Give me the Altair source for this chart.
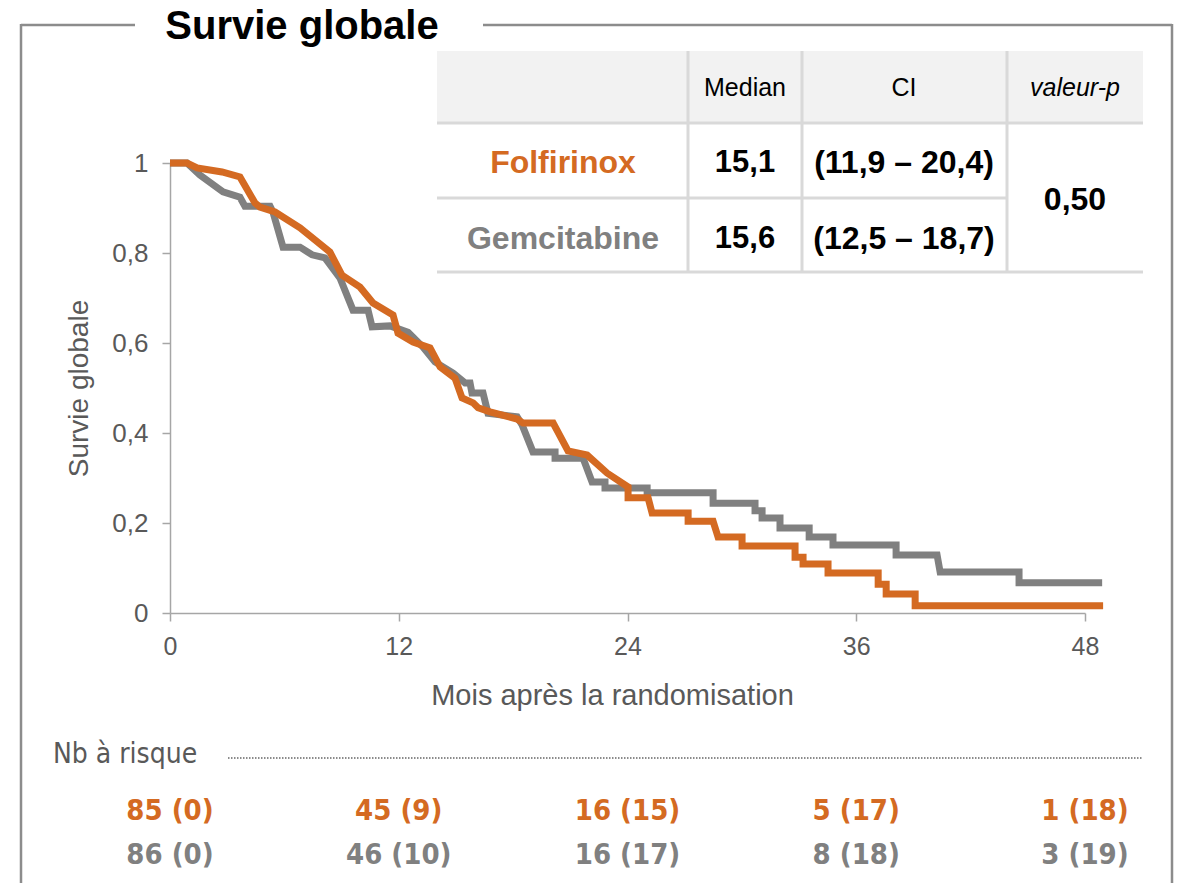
import altair as alt
import pandas as pd

# ---------------- data ----------------
fol_months = [0, 0.89, 1.42, 2.73, 3.67, 4.46, 4.72, 5.51, 6.82, 8.39, 9.02, 9.97, 10.65, 11.70,
              11.96, 12.75, 13.64, 14.17, 14.95, 15.32, 15.90, 16.16, 16.79, 18.21, 18.52, 20.10,
              20.88, 21.88, 22.93, 24.03, 24.03, 25.08, 25.29, 27.18, 27.18, 28.49, 28.75, 30.01,
              30.01, 32.79, 32.79, 33.21, 33.21, 34.52, 34.52, 37.15, 37.15, 37.57, 37.57, 39.09,
              39.09, 48.95]
fol_surv = [1.0, 1.0, 0.989, 0.980, 0.969, 0.911, 0.902, 0.891, 0.856, 0.802, 0.751, 0.724, 0.689,
            0.662, 0.622, 0.602, 0.589, 0.547, 0.522, 0.478, 0.467, 0.456, 0.447, 0.431, 0.422,
            0.422, 0.360, 0.351, 0.311, 0.280, 0.256, 0.256, 0.222, 0.222, 0.204, 0.204, 0.169,
            0.169, 0.149, 0.149, 0.124, 0.124, 0.109, 0.109, 0.089, 0.089, 0.064, 0.064, 0.042,
            0.042, 0.016, 0.016]

gem_months = [0, 0.89, 1.57, 2.78, 3.67, 3.93, 5.25, 5.40, 5.93, 6.82, 7.45, 8.13, 8.92, 9.60,
              10.39, 10.60, 11.54, 12.49, 13.27, 13.90, 14.85, 15.48, 15.74, 15.84, 16.42, 16.68,
              18.21, 18.47, 19.04, 20.20, 20.20, 21.67, 22.14, 22.82, 22.82, 25.03, 25.03, 28.49,
              28.49, 30.69, 30.69, 31.06, 31.06, 32.00, 32.00, 33.53, 33.53, 34.78, 34.78, 38.09,
              38.09, 40.24, 40.40, 44.54, 44.54, 48.90]
gem_surv = [1.0, 1.0, 0.973, 0.936, 0.924, 0.904, 0.904, 0.891, 0.813, 0.813, 0.796, 0.789, 0.744,
            0.673, 0.673, 0.636, 0.638, 0.624, 0.591, 0.558, 0.533, 0.511, 0.511, 0.489, 0.489,
            0.444, 0.436, 0.418, 0.358, 0.358, 0.344, 0.344, 0.291, 0.291, 0.278, 0.278, 0.267,
            0.267, 0.244, 0.244, 0.227, 0.227, 0.211, 0.211, 0.189, 0.189, 0.169, 0.169, 0.151,
            0.151, 0.129, 0.129, 0.091, 0.091, 0.067, 0.067]

x_ticks = [0, 12, 24, 36, 48]
y_ticks = [0, 0.2, 0.4, 0.6, 0.8, 1]

risk_months = [0, 12, 24, 36, 48]
risk_fol = ["85 (0)", "45 (9)", "16 (15)", "5 (17)", "1 (18)"]
risk_gem = ["86 (0)", "46 (10)", "16 (17)", "8 (18)", "3 (19)"]

arms = ["Folfirinox", "Gemcitabine"]
medians = ["15,1", "15,6"]
cis = ["(11,9 – 20,4)", "(12,5 – 18,7)"]
p_value = "0,50"
headers = ["Median", "CI", "valeur-p"]

chart_title = "Survie globale"
x_title = "Mois après la randomisation"
y_title = "Survie globale"
risk_title = "Nb à risque"

# ---------------- style ----------------
ORANGE = "#D46A22"
GRAY = "#808080"
AXIS = "#a6a6a6"
TXT = "#595959"
SANS = "Liberation Sans, Arial, sans-serif"
RISKFONT = "DejaVu Sans Condensed, DejaVu Sans, sans-serif"
W, H = 915, 450

dummy = pd.DataFrame({"d": [0]})


def txt(s, x, y, size, color="#000000", weight="normal", style="normal", font=SANS,
        align="center", baseline="middle"):
    return alt.Chart(dummy).mark_text(
        text=s, align=align, baseline=baseline, fontSize=size, fontWeight=weight,
        fontStyle=style, font=font, color=color
    ).encode(x=alt.value(x), y=alt.value(y))


def hrule(x1, x2, y, color, width, dash=None):
    kw = dict(color=color, strokeWidth=width)
    if dash:
        kw["strokeDash"] = dash
    return alt.Chart(dummy).mark_rule(**kw).encode(
        x=alt.value(x1), x2=alt.value(x2), y=alt.value(y))


def vrule(x, y1, y2, color, width):
    return alt.Chart(dummy).mark_rule(color=color, strokeWidth=width).encode(
        x=alt.value(x), y=alt.value(y1), y2=alt.value(y2))


layers = []

# frame around the figure
BORDER = "#8c8c8c"
layers += [
    hrule(-149, -35, -138, BORDER, 2.5),
    hrule(313, 1002, -138, BORDER, 2.5),
    vrule(-149, -139, 740, BORDER, 2.5),
    vrule(1002, -139, 740, BORDER, 2.5),
    txt(chart_title, 132, -124, 40, "#000000", "bold", baseline="alphabetic"),
]

# summary table
GRID = "#d9d9d9"
layers.append(alt.Chart(dummy).mark_rect(color="#f2f2f2").encode(
    x=alt.value(267), x2=alt.value(973), y=alt.value(-112), y2=alt.value(-40)))
layers += [
    hrule(267, 973, -40, GRID, 3),
    hrule(267, 837, 35, GRID, 3),
    hrule(267, 973, 109, GRID, 3),
    vrule(518, -112, 109, GRID, 3),
    vrule(632, -112, 109, GRID, 3),
    vrule(837, -112, 109, GRID, 3),
]
col_x = [575, 734, 905]
for h, cx in zip(headers, col_x):
    layers.append(txt(h, cx, -75, 25, "#000000", style="italic" if h == "valeur-p" else "normal"))
row_y = [0, 76]
arm_cols = [ORANGE, GRAY]
for arm, med, ci, ry, col in zip(arms, medians, cis, row_y, arm_cols):
    layers.append(txt(arm, 393, ry, 32, col, "bold"))
    layers.append(txt(med, 575, ry, 31, "#000000", "bold"))
    layers.append(txt(ci, 734, ry, 32, "#000000", "bold"))
layers.append(txt(p_value, 905, 37, 32, "#000000", "bold"))

# survival curves
x_enc = alt.X("t:Q", scale=alt.Scale(domain=[0, 48], nice=False, zero=False),
              axis=alt.Axis(values=x_ticks, title=x_title, titleFontSize=29,
                            titleFontWeight="normal", titlePadding=22, labelPadding=13,
                            labelFontSize=25, tickSize=8, labelFlush=False,
                            titleX=442, titleAlign="center"))
y_enc = alt.Y("s:Q", scale=alt.Scale(domain=[0, 1], nice=False),
              axis=alt.Axis(values=y_ticks, title=y_title, titleFontSize=28,
                            titleFontWeight="normal", titlePadding=18, labelPadding=14,
                            labelFontSize=26, tickSize=8,
                            labelExpr="datum.value == 0 ? '0' : datum.value == 1 ? '1' : "
                                      "replace(format(datum.value, '.1f'), '.', ',')"))

gem_df = pd.DataFrame({"t": gem_months, "s": gem_surv, "i": list(range(len(gem_months)))})
fol_df = pd.DataFrame({"t": fol_months, "s": fol_surv, "i": list(range(len(fol_months)))})

layers.append(alt.Chart(gem_df).mark_line(color=GRAY, strokeWidth=7, strokeJoin="miter").encode(
    x=x_enc, y=y_enc, order="i:Q"))
layers.append(alt.Chart(fol_df).mark_line(color=ORANGE, strokeWidth=7, strokeJoin="miter").encode(
    x=x_enc, y=y_enc, order="i:Q"))

# number at risk
layers.append(txt(risk_title, -117, 592, 28, TXT, font=RISKFONT, align="left"))
layers.append(hrule(58, 973, 595, "#666666", 1.3, dash=[1.5, 1.5]))
fol_risk_df = pd.DataFrame({"t": risk_months, "label": risk_fol})
gem_risk_df = pd.DataFrame({"t": risk_months, "label": risk_gem})
layers.append(alt.Chart(fol_risk_df).mark_text(
    fontSize=29, fontWeight="bold", font=RISKFONT, color=ORANGE, baseline="middle"
).encode(x=x_enc, y=alt.value(648), text="label:N"))
layers.append(alt.Chart(gem_risk_df).mark_text(
    fontSize=29, fontWeight="bold", font=RISKFONT, color=GRAY, baseline="middle"
).encode(x=x_enc, y=alt.value(692), text="label:N"))

chart = alt.layer(*layers).properties(
    width=W, height=H,
    autosize=alt.AutoSizeParams(type="none"),
    padding={"left": 162, "top": 155, "right": 90, "bottom": 270},
).configure_view(stroke=None).configure_axis(
    grid=False, domainColor=AXIS, tickColor=AXIS, domainWidth=1.5, tickWidth=1.5,
    labelColor=TXT, titleColor=TXT, labelFont=SANS, titleFont=SANS,
)

chart.save("out.html", embed_options={"renderer": "svg", "actions": False})
